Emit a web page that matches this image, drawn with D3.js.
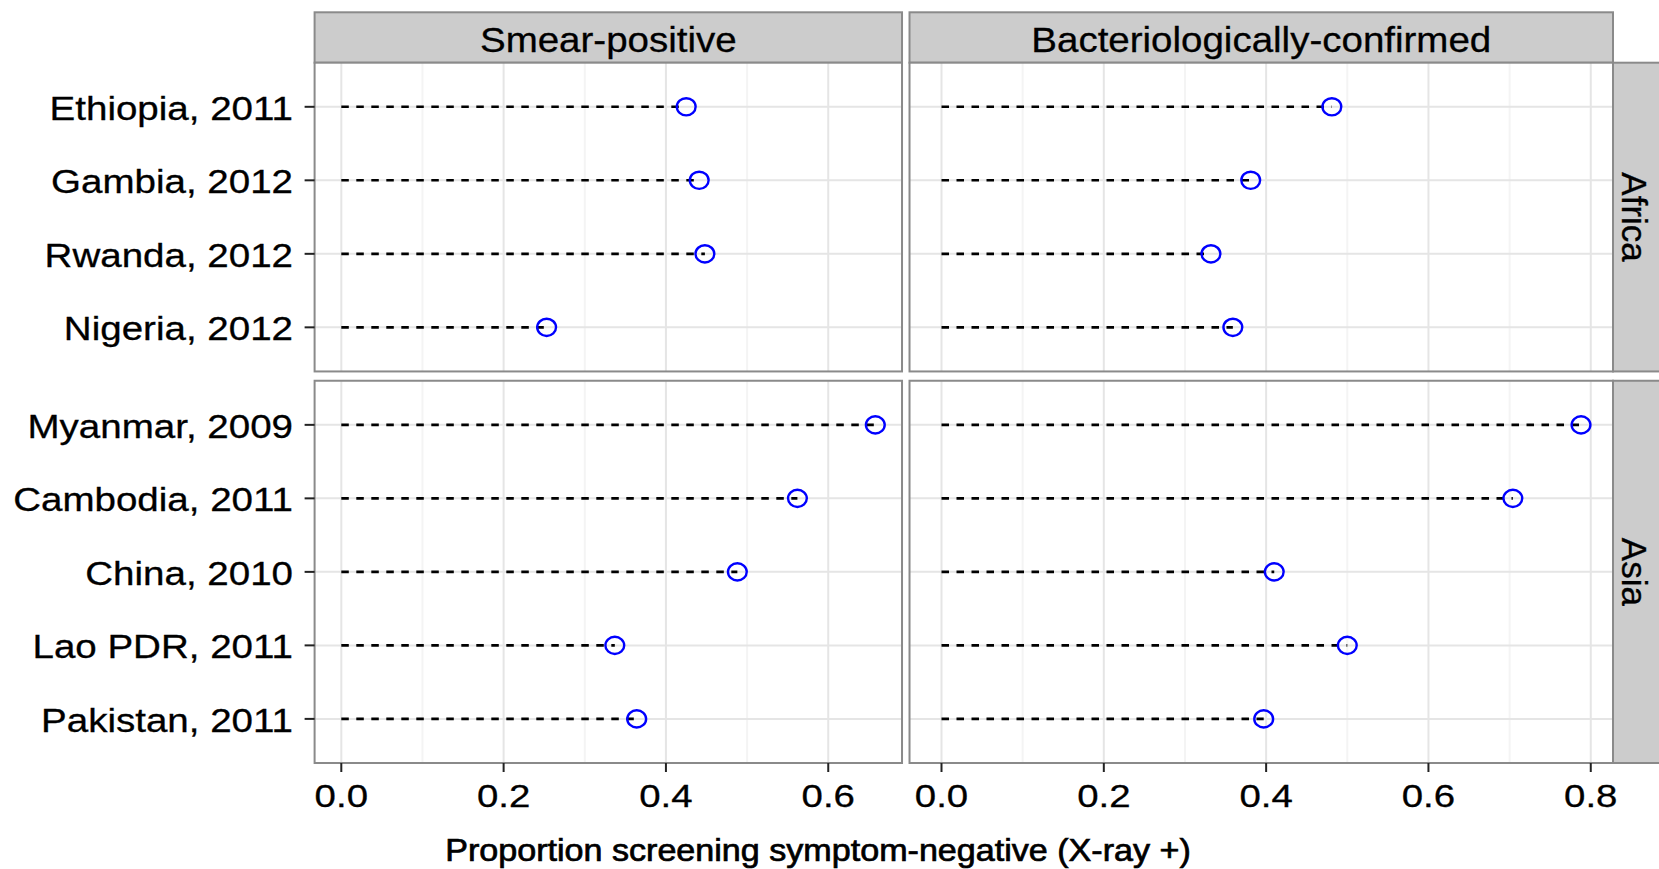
<!DOCTYPE html>
<html>
<head>
<meta charset="utf-8">
<script src="https://cdn.jsdelivr.net/npm/d3@7"></script>
<style>
  body { margin: 0; background: #fff; }
  text { font-family: "Liberation Sans", Arial, sans-serif; fill: #000; stroke: #000; stroke-width: 0.3px; }
</style>
</head>
<body>
<div id="chart"></div>
<script>
var regions = ["Africa", "Asia"];
var types = ["Smear-positive", "Bacteriologically-confirmed"];

var africaSites = ["Ethiopia, 2011", "Gambia, 2012", "Rwanda, 2012", "Nigeria, 2012"];
var asiaSites = ["Myanmar, 2009", "Cambodia, 2011", "China, 2010", "Lao PDR, 2011", "Pakistan, 2011"];

var smearAfrica = [0.425, 0.441, 0.448, 0.253];
var bactAfrica = [0.481, 0.381, 0.332, 0.359];
var smearAsia = [0.658, 0.562, 0.488, 0.337, 0.364];
var bactAsia = [0.788, 0.704, 0.41, 0.5, 0.397];

var xTicks = [0, 0.2, 0.4, 0.6, 0.8];
var xMinorTicks = [0.1, 0.3, 0.5, 0.7];

var sites = [africaSites, asiaSites];
var values = [
  [smearAfrica, bactAfrica],
  [smearAsia, bactAsia],
];

const width = 1659;
const height = 869;
const plotLeft = 314.6;
const plotRight = 1613;
const plotTop = 62.7;
const plotBottom = 763;
const hGap = 7.5;
const vGap = 9.3;
const stripTop = 12.3;
const stripW = 50;
const border = "#8a8a8a";

const svg = d3
  .select("#chart")
  .append("svg")
  .attr("width", width)
  .attr("height", height);

// free x per column (ggplot style 5% expansion), widths proportional to range
const colMax = types.map((t, c) => d3.max(values, (r) => d3.max(r[c])));
const colExt = colMax.map((m) => m * 1.1);
const totalW = plotRight - plotLeft - hGap;
const colW = colExt.map((e) => (totalW * e) / d3.sum(colExt));
const colX = [plotLeft, plotLeft + colW[0] + hGap];
const xScales = colMax.map((m, c) =>
  d3.scaleLinear().domain([-0.05 * m, 1.05 * m]).range([colX[c], colX[c] + colW[c]])
);

// free y per row, heights proportional to n + 0.2
const rowUnits = sites.map((s) => s.length + 0.2);
const totalH = plotBottom - plotTop - vGap;
const rowH = rowUnits.map((u) => (totalH * u) / d3.sum(rowUnits));
const rowY = [plotTop, plotTop + rowH[0] + vGap];
const yScales = sites.map((s, r) =>
  d3.scalePoint().domain(s).range([rowY[r], rowY[r] + rowH[r]]).padding(0.6)
);

// top strips
types.forEach((t, c) => {
  svg
    .append("rect")
    .attr("x", colX[c])
    .attr("y", stripTop)
    .attr("width", colW[c])
    .attr("height", plotTop - stripTop)
    .attr("fill", "#cccccc")
    .attr("stroke", border)
    .attr("stroke-width", 2);
  const cx = colX[c] + colW[c] / 2;
  svg
    .append("text")
    .attr("transform", `translate(${cx},51.7) scale(1.1,1)`)
    .attr("text-anchor", "middle")
    .style("font-size", "35px")
    .text(t);
});

// right strips
regions.forEach((reg, r) => {
  svg
    .append("rect")
    .attr("x", plotRight)
    .attr("y", rowY[r])
    .attr("width", stripW)
    .attr("height", rowH[r])
    .attr("fill", "#cccccc")
    .attr("stroke", border)
    .attr("stroke-width", 2);
  svg
    .append("text")
    .attr("transform", `translate(1622,${rowY[r] + rowH[r] / 2}) rotate(90)`)
    .attr("text-anchor", "middle")
    .style("font-size", "35px")
    .text(reg);
});

regions.forEach((reg, r) => {
  const y = yScales[r];
  types.forEach((t, c) => {
    const x = xScales[c];
    const g = svg.append("g");
    g.append("rect")
      .attr("x", colX[c])
      .attr("y", rowY[r])
      .attr("width", colW[c])
      .attr("height", rowH[r])
      .attr("fill", "#fff");

    const [d0, d1] = x.domain();
    g.selectAll(".minor")
      .data(xMinorTicks.filter((v) => v >= d0 && v <= d1))
      .enter()
      .append("line")
      .attr("x1", (d) => x(d))
      .attr("x2", (d) => x(d))
      .attr("y1", rowY[r])
      .attr("y2", rowY[r] + rowH[r])
      .attr("stroke", "#f4f4f4")
      .attr("stroke-width", 2);

    g.selectAll(".major")
      .data(xTicks.filter((v) => v >= d0 && v <= d1))
      .enter()
      .append("line")
      .attr("x1", (d) => x(d))
      .attr("x2", (d) => x(d))
      .attr("y1", rowY[r])
      .attr("y2", rowY[r] + rowH[r])
      .attr("stroke", "#e5e5e5")
      .attr("stroke-width", 2);

    g.selectAll(".hgrid")
      .data(sites[r])
      .enter()
      .append("line")
      .attr("x1", colX[c])
      .attr("x2", colX[c] + colW[c])
      .attr("y1", (d) => y(d))
      .attr("y2", (d) => y(d))
      .attr("stroke", "#e5e5e5")
      .attr("stroke-width", 2);

    const pts = sites[r].map((s, i) => ({ site: s, value: values[r][c][i] }));

    g.selectAll(".seg")
      .data(pts)
      .enter()
      .append("line")
      .attr("x1", x(0))
      .attr("x2", (d) => x(d.value))
      .attr("y1", (d) => y(d.site))
      .attr("y2", (d) => y(d.site))
      .attr("stroke", "#000")
      .attr("stroke-width", 2.6)
      .attr("stroke-dasharray", "7.5,7.5");

    g.selectAll(".pt")
      .data(pts)
      .enter()
      .append("ellipse")
      .attr("cx", (d) => x(d.value))
      .attr("cy", (d) => y(d.site))
      .attr("rx", 9.4)
      .attr("ry", 8.6)
      .attr("fill", "none")
      .attr("stroke", "#0000ff")
      .attr("stroke-width", 2.4);

    g.append("rect")
      .attr("x", colX[c])
      .attr("y", rowY[r])
      .attr("width", colW[c])
      .attr("height", rowH[r])
      .attr("fill", "none")
      .attr("stroke", border)
      .attr("stroke-width", 2);
  });

  // y axis
  const yAxis = svg.append("g");
  yAxis
    .selectAll("line")
    .data(sites[r])
    .enter()
    .append("line")
    .attr("x1", plotLeft - 10)
    .attr("x2", plotLeft)
    .attr("y1", (d) => y(d))
    .attr("y2", (d) => y(d))
    .attr("stroke", "#222")
    .attr("stroke-width", 2);
  yAxis
    .selectAll("text")
    .data(sites[r])
    .enter()
    .append("text")
    .attr("transform", (d) => `translate(293,${y(d)}) scale(1.15,1)`)
    .attr("dy", "0.39em")
    .attr("text-anchor", "end")
    .style("font-size", "33.5px")
    .text((d) => d);
});

// x axes
types.forEach((t, c) => {
  const x = xScales[c];
  const [d0, d1] = x.domain();
  const ticks = xTicks.filter((v) => v >= d0 && v <= d1);
  const ax = svg.append("g");
  ax.selectAll("line")
    .data(ticks)
    .enter()
    .append("line")
    .attr("x1", (d) => x(d))
    .attr("x2", (d) => x(d))
    .attr("y1", plotBottom)
    .attr("y2", plotBottom + 9)
    .attr("stroke", "#222")
    .attr("stroke-width", 2);
  ax.selectAll("text")
    .data(ticks)
    .enter()
    .append("text")
    .attr("transform", (d) => `translate(${x(d)},807) scale(1.2,1)`)
    .attr("text-anchor", "middle")
    .style("font-size", "32px")
    .text((d) => d3.format(".1f")(d));
});

svg
  .append("text")
  .attr("transform", "translate(818,860.5) scale(1.1,1)")
  .attr("text-anchor", "middle")
  .style("font-size", "31px")
  .style("stroke-width", "0.7px")
  .text("Proportion screening symptom-negative (X-ray +)");
</script>
</body>
</html>
